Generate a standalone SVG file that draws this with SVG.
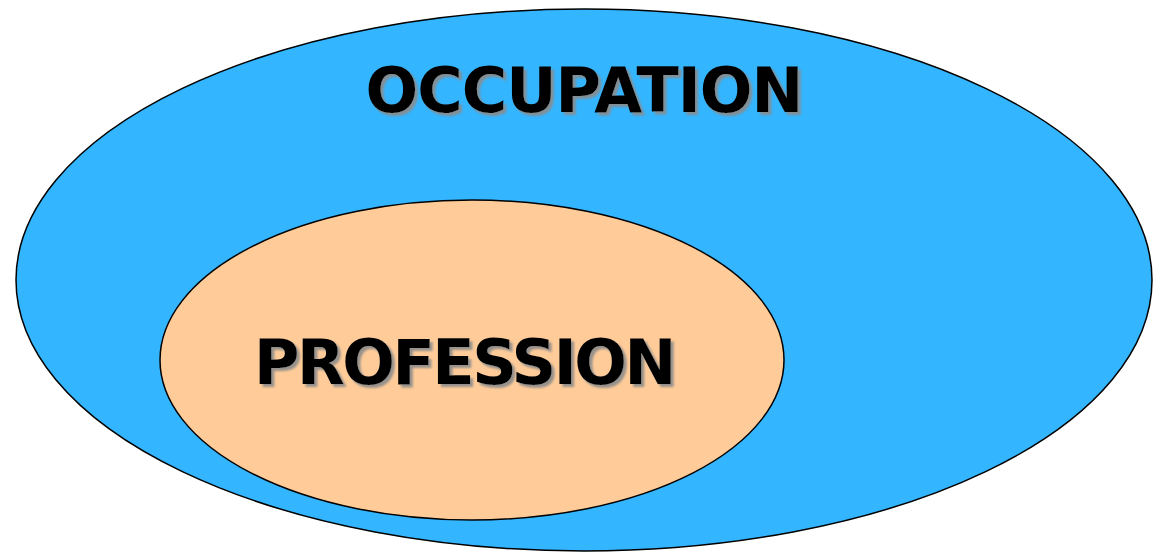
<svg xmlns="http://www.w3.org/2000/svg" width="1153" height="552" viewBox="0 0 1153 552">
<style>
.lbl{font-family:"DejaVu Sans","Verdana",sans-serif;font-weight:bold;font-size:62px;text-anchor:middle;fill:#000;filter:url(#shadow)}
</style>
<defs>
<filter id="shadow" x="-5%" y="-20%" width="110%" height="150%">
<feDropShadow dx="3" dy="3" stdDeviation="1" flood-color="#8a8a8a" flood-opacity="0.9"/>
</filter>
</defs>
<rect width="1153" height="552" fill="#fff"/>
<g id="occupation">
<ellipse cx="584" cy="280" rx="568" ry="271" fill="#33b5ff" stroke="#000" stroke-width="1.5"/>
<text class="lbl" x="584" y="112" letter-spacing="-1">OCCUPATION</text>
</g>
<g id="profession">
<ellipse cx="472" cy="360" rx="312" ry="160" fill="#ffcc99" stroke="#000" stroke-width="1.5"/>
<text class="lbl" x="464" y="384" letter-spacing="-2.5">PROFESSION</text>
</g>
<g id="connectors"/>
</svg>
